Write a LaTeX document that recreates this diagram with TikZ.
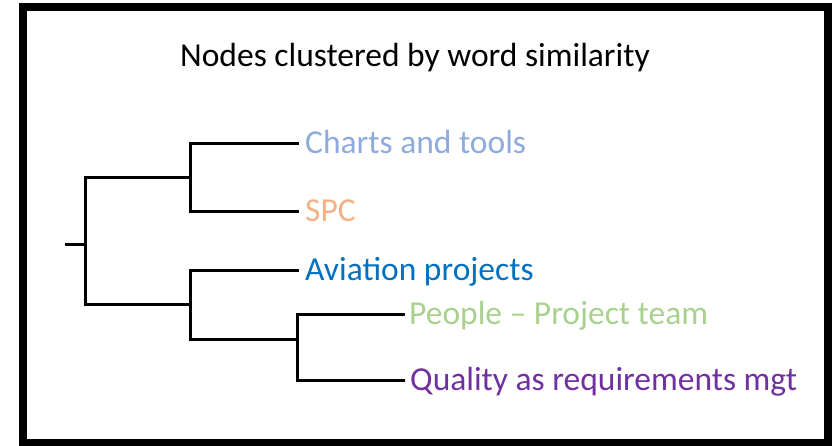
\documentclass[tikz,border=0pt]{standalone}
\usepackage{fontspec}
\setmainfont{Carlito}
\definecolor{cTools}{HTML}{8FAADC}
\definecolor{cSPC}{HTML}{F4B183}
\definecolor{cAvia}{HTML}{0070C0}
\definecolor{cPeople}{HTML}{A9D18E}
\definecolor{cQual}{HTML}{7030A0}
\tikzset{
  frame/.style={draw=black, line width=8pt},
  branch/.style={draw=black, line width=3pt, line join=miter, line cap=rect},
  lbl/.style={inner sep=0pt, anchor=west, text height=20pt, text depth=0pt,
    font=\fontsize{33.5}{40}\selectfont},
  ttl/.style={inner sep=0pt, anchor=base, font=\fontsize{33.5}{40}\selectfont}
}
\begin{document}
\begin{tikzpicture}[x=1pt, y=-1pt]
\useasboundingbox (0,0) rectangle (835,445);
\draw[frame] (22.5,6.5) rectangle (828,443);

% title
\node[ttl] (title) at (415,66.7) {Nodes clustered by word similarity};

% leaf labels
\node[lbl, text=cTools]  (tools)  at (305,143) {Charts and tools};
\node[lbl, text=cSPC]    (spc)    at (305,211.5) {SPC};
\node[lbl, text=cAvia]   (avia)   at (305,270) {Aviation projects};
\node[lbl, text=cPeople] (people) at (409,314) {People – Project team};
\node[lbl, text=cQual]   (qual)   at (410,380.5) {Quality as requirements mgt};

% leaf ends
\coordinate (eTools)  at ([xshift=-8pt]tools.west);
\coordinate (eSPC)    at ([xshift=-8pt]spc.west);
\coordinate (eAvia)   at ([xshift=-8pt]avia.west);
\coordinate (ePeople) at ([xshift=-6pt]people.west);
\coordinate (eQual)   at ([xshift=-7pt]qual.west);

% merge points
\coordinate (mUp)   at (190,177.5);
\coordinate (mSub)  at (297,339);
\coordinate (mLow)  at (190,304);
\coordinate (mRoot) at (85,244);
\coordinate (stub)  at (66,244);

% brackets
\draw[branch] (eTools) -- (eTools -| mUp) -- (eSPC -| mUp) -- (eSPC);
\draw[branch] (ePeople) -- (ePeople -| mSub) -- (eQual -| mSub) -- (eQual);
\draw[branch] (eAvia) -- (eAvia -| mLow) -- (mSub -| mLow) -- (mSub);
\draw[branch] (mUp) -- (mUp -| mRoot) -- (mLow -| mRoot) -- (mLow);
\draw[branch] (stub) -- (mRoot);
\end{tikzpicture}
\end{document}
